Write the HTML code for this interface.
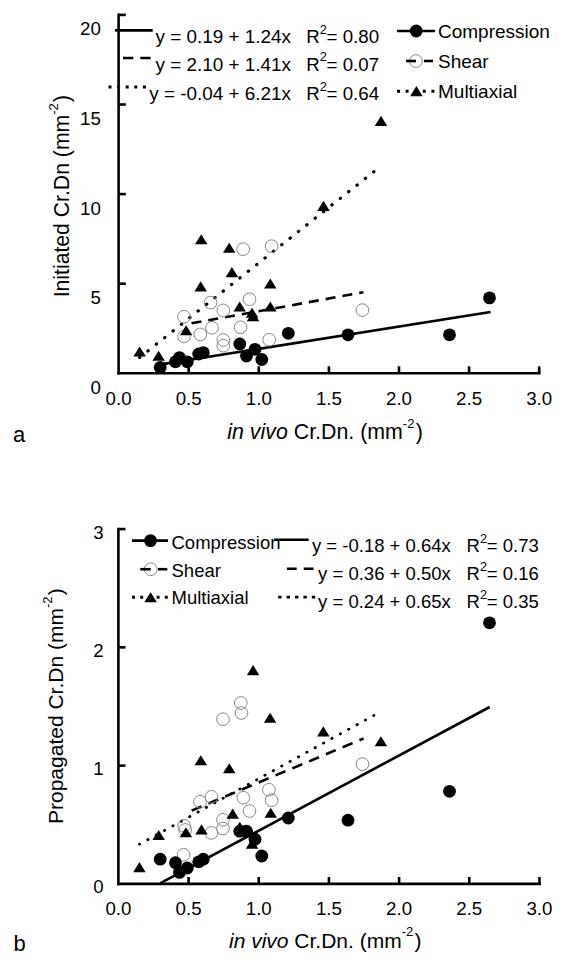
<!DOCTYPE html>
<html><head><meta charset="utf-8"><style>
html,body{margin:0;padding:0;background:#fff;width:566px;height:967px;overflow:hidden}
svg{display:block}
text{font-family:"Liberation Sans", sans-serif;fill:#000}
</style></head><body>
<svg width="566" height="967" viewBox="0 0 566 967">
<rect width="566" height="967" fill="#fff"/>
<line x1="118.6" y1="13.6" x2="118.6" y2="374.6" stroke="#000" stroke-width="2.6" />
<line x1="117.3" y1="373.3" x2="540.6" y2="373.3" stroke="#000" stroke-width="2.6" />
<line x1="118.6" y1="14.899999999999977" x2="125.8" y2="14.899999999999977" stroke="#000" stroke-width="2.6" />
<line x1="118.6" y1="104.5" x2="125.8" y2="104.5" stroke="#000" stroke-width="2.6" />
<line x1="118.6" y1="194.1" x2="125.8" y2="194.1" stroke="#000" stroke-width="2.6" />
<line x1="118.6" y1="283.7" x2="125.8" y2="283.7" stroke="#000" stroke-width="2.6" />
<line x1="188.7" y1="366.3" x2="188.7" y2="373.3" stroke="#000" stroke-width="2.6" />
<line x1="258.79999999999995" y1="366.3" x2="258.79999999999995" y2="373.3" stroke="#000" stroke-width="2.6" />
<line x1="328.9" y1="366.3" x2="328.9" y2="373.3" stroke="#000" stroke-width="2.6" />
<line x1="399.0" y1="366.3" x2="399.0" y2="373.3" stroke="#000" stroke-width="2.6" />
<line x1="469.1" y1="366.3" x2="469.1" y2="373.3" stroke="#000" stroke-width="2.6" />
<line x1="539.1999999999999" y1="366.3" x2="539.1999999999999" y2="373.3" stroke="#000" stroke-width="2.6" />
<text x="100.9" y="35.299999999999976" font-size="18.7" text-anchor="end" >20</text>
<text x="100.9" y="124.9" font-size="18.7" text-anchor="end" >15</text>
<text x="100.9" y="214.5" font-size="18.7" text-anchor="end" >10</text>
<text x="100.9" y="304.09999999999997" font-size="18.7" text-anchor="end" >5</text>
<text x="100.9" y="393.7" font-size="18.7" text-anchor="end" >0</text>
<text x="118.6" y="405.2" font-size="18.7" text-anchor="middle" >0.0</text>
<text x="188.7" y="405.2" font-size="18.7" text-anchor="middle" >0.5</text>
<text x="258.79999999999995" y="405.2" font-size="18.7" text-anchor="middle" >1.0</text>
<text x="328.9" y="405.2" font-size="18.7" text-anchor="middle" >1.5</text>
<text x="399.0" y="405.2" font-size="18.7" text-anchor="middle" >2.0</text>
<text x="469.1" y="405.2" font-size="18.7" text-anchor="middle" >2.5</text>
<text x="539.1999999999999" y="405.2" font-size="18.7" text-anchor="middle" >3.0</text>
<text transform="translate(69.2,297.3) rotate(-90)" font-size="21.2">Initiated Cr.Dn (mm<tspan font-size="13" dy="-11.3">-2</tspan><tspan dy="11.3" dx="1.3">)</tspan></text>
<text x="227.3" y="439" font-size="21.35"><tspan font-style="italic">in vivo</tspan> Cr.Dn. (mm<tspan font-size="13" dy="-11.3">-2</tspan><tspan dy="11.3" dx="1.3">)</tspan></text>
<text x="13" y="441.5" font-size="22" text-anchor="start" >a</text>
<line x1="160.7" y1="364.4" x2="490.5" y2="312.0" stroke="#000" stroke-width="2.6" />
<line x1="191.5" y1="323.3" x2="363.4" y2="292.3" stroke="#000" stroke-width="2.6" stroke-dasharray="10 7.04"/>
<line x1="139.7" y1="357.4" x2="373.9" y2="171.7" stroke="#000" stroke-width="3.2" stroke-dasharray="0.4 10.27" stroke-dashoffset="0.2" stroke-linecap="round"/>
<circle cx="184" cy="316.7" r="6.35" fill="none" stroke="#888" stroke-width="1"/>
<circle cx="184" cy="336.5" r="6.35" fill="none" stroke="#888" stroke-width="1"/>
<circle cx="200.3" cy="334.4" r="6.35" fill="none" stroke="#888" stroke-width="1"/>
<circle cx="210.6" cy="302.6" r="6.35" fill="none" stroke="#888" stroke-width="1"/>
<circle cx="212" cy="327.8" r="6.35" fill="none" stroke="#888" stroke-width="1"/>
<circle cx="223.3" cy="310.4" r="6.35" fill="none" stroke="#888" stroke-width="1"/>
<circle cx="223.3" cy="340" r="6.35" fill="none" stroke="#888" stroke-width="1"/>
<circle cx="223.3" cy="345.7" r="6.35" fill="none" stroke="#888" stroke-width="1"/>
<circle cx="240.6" cy="327.3" r="6.35" fill="none" stroke="#888" stroke-width="1"/>
<circle cx="243.2" cy="249.2" r="6.35" fill="none" stroke="#888" stroke-width="1"/>
<circle cx="249.5" cy="299.3" r="6.35" fill="none" stroke="#888" stroke-width="1"/>
<circle cx="269.2" cy="339.7" r="6.35" fill="none" stroke="#888" stroke-width="1"/>
<circle cx="271.6" cy="246.2" r="6.35" fill="none" stroke="#888" stroke-width="1"/>
<circle cx="362.4" cy="310.1" r="6.35" fill="none" stroke="#888" stroke-width="1"/>
<path d="M133.35 356.55 L139.60 346.45 L145.85 356.55Z" fill="#000"/>
<path d="M152.35 360.85 L158.60 350.75 L164.85 360.85Z" fill="#000"/>
<path d="M179.85 335.25 L186.10 325.15 L192.35 335.25Z" fill="#000"/>
<path d="M194.45 291.45 L200.70 281.35 L206.95 291.45Z" fill="#000"/>
<path d="M194.95 244.25 L201.20 234.15 L207.45 244.25Z" fill="#000"/>
<path d="M222.95 252.75 L229.20 242.65 L235.45 252.75Z" fill="#000"/>
<path d="M225.65 277.15 L231.90 267.05 L238.15 277.15Z" fill="#000"/>
<path d="M233.45 311.55 L239.70 301.45 L245.95 311.55Z" fill="#000"/>
<path d="M245.85 317.75 L252.10 307.65 L258.35 317.75Z" fill="#000"/>
<path d="M246.75 321.25 L253.00 311.15 L259.25 321.25Z" fill="#000"/>
<path d="M264.05 288.55 L270.30 278.45 L276.55 288.55Z" fill="#000"/>
<path d="M264.05 311.55 L270.30 301.45 L276.55 311.55Z" fill="#000"/>
<path d="M317.25 210.95 L323.50 200.85 L329.75 210.95Z" fill="#000"/>
<path d="M374.75 125.95 L381.00 115.85 L387.25 125.95Z" fill="#000"/>
<circle cx="160.2" cy="367.5" r="6.4" fill="#000"/>
<circle cx="175.5" cy="361.8" r="6.4" fill="#000"/>
<circle cx="179.5" cy="357.6" r="6.4" fill="#000"/>
<circle cx="187.3" cy="361.8" r="6.4" fill="#000"/>
<circle cx="198.7" cy="354.0" r="6.4" fill="#000"/>
<circle cx="203.3" cy="352.6" r="6.4" fill="#000"/>
<circle cx="239.8" cy="344.0" r="6.4" fill="#000"/>
<circle cx="246.5" cy="356.0" r="6.4" fill="#000"/>
<circle cx="255.0" cy="349.3" r="6.4" fill="#000"/>
<circle cx="261.8" cy="359.5" r="6.4" fill="#000"/>
<circle cx="288.3" cy="333.3" r="6.4" fill="#000"/>
<circle cx="348.0" cy="334.8" r="6.4" fill="#000"/>
<circle cx="449.5" cy="334.8" r="6.4" fill="#000"/>
<circle cx="489.5" cy="297.9" r="6.4" fill="#000"/>
<line x1="115" y1="30.4" x2="152.7" y2="30.4" stroke="#000" stroke-width="2.6" />
<line x1="123" y1="58" x2="151" y2="58" stroke="#000" stroke-width="2.6" stroke-dasharray="10.3 7"/>
<line x1="108.5" y1="87" x2="146" y2="87" stroke="#000" stroke-width="3" stroke-dasharray="3 5.6"/>
<text x="291" y="42.9" font-size="18.9" text-anchor="end" >y = 0.19 + 1.24x</text>
<text x="291" y="70.5" font-size="18.9" text-anchor="end" >y = 2.10 + 1.41x</text>
<text x="291" y="100.2" font-size="18.9" text-anchor="end" >y = -0.04 + 6.21x</text>
<text x="306.2" y="42.9" font-size="18.7" text-anchor="start" >R</text>
<text x="319.8" y="33.7" font-size="12.8" text-anchor="start" >2</text>
<text x="326.6" y="42.9" font-size="18.7" text-anchor="start" >= 0.80</text>
<text x="306.2" y="70.5" font-size="18.7" text-anchor="start" >R</text>
<text x="319.8" y="61.3" font-size="12.8" text-anchor="start" >2</text>
<text x="326.6" y="70.5" font-size="18.7" text-anchor="start" >= 0.07</text>
<text x="306.2" y="100.2" font-size="18.7" text-anchor="start" >R</text>
<text x="319.8" y="91.0" font-size="12.8" text-anchor="start" >2</text>
<text x="326.6" y="100.2" font-size="18.7" text-anchor="start" >= 0.64</text>
<line x1="397.1" y1="31" x2="435" y2="31" stroke="#000" stroke-width="2.6" />
<circle cx="416.2" cy="31" r="6.4" fill="#000"/>
<line x1="424" y1="61" x2="433" y2="61" stroke="#000" stroke-width="2.6" />
<circle cx="415.9" cy="61" r="6.35" fill="#fff" stroke="#888" stroke-width="1"/>
<line x1="406" y1="61" x2="416" y2="61" stroke="#000" stroke-width="2.6" />
<line x1="397" y1="91.3" x2="435" y2="91.3" stroke="#000" stroke-width="3" stroke-dasharray="3 5.6"/>
<path d="M410.15 96.15 L416.40 86.05 L422.65 96.15Z" fill="#000"/>
<text x="438" y="38.3" font-size="19" text-anchor="start" >Compression</text>
<text x="438" y="68" font-size="19" text-anchor="start" >Shear</text>
<text x="438" y="98.4" font-size="19" text-anchor="start" >Multiaxial</text>
<line x1="118.4" y1="527.8" x2="118.4" y2="885.2" stroke="#000" stroke-width="2.6" />
<line x1="117.1" y1="883.9" x2="541.0" y2="883.9" stroke="#000" stroke-width="2.6" />
<line x1="118.4" y1="529.0899999999999" x2="125.5" y2="529.0899999999999" stroke="#000" stroke-width="2.6" />
<line x1="118.4" y1="647.36" x2="125.5" y2="647.36" stroke="#000" stroke-width="2.6" />
<line x1="118.4" y1="765.63" x2="125.5" y2="765.63" stroke="#000" stroke-width="2.6" />
<line x1="188.575" y1="877.0" x2="188.575" y2="883.9" stroke="#000" stroke-width="2.6" />
<line x1="258.75" y1="877.0" x2="258.75" y2="883.9" stroke="#000" stroke-width="2.6" />
<line x1="328.92499999999995" y1="877.0" x2="328.92499999999995" y2="883.9" stroke="#000" stroke-width="2.6" />
<line x1="399.1" y1="877.0" x2="399.1" y2="883.9" stroke="#000" stroke-width="2.6" />
<line x1="469.275" y1="877.0" x2="469.275" y2="883.9" stroke="#000" stroke-width="2.6" />
<line x1="539.4499999999999" y1="877.0" x2="539.4499999999999" y2="883.9" stroke="#000" stroke-width="2.6" />
<text x="103.6" y="538.5899999999999" font-size="18.7" text-anchor="end" >3</text>
<text x="103.6" y="656.86" font-size="18.7" text-anchor="end" >2</text>
<text x="103.6" y="775.13" font-size="18.7" text-anchor="end" >1</text>
<text x="103.6" y="893.4" font-size="18.7" text-anchor="end" >0</text>
<text x="118.4" y="914.9" font-size="18.7" text-anchor="middle" >0.0</text>
<text x="188.575" y="914.9" font-size="18.7" text-anchor="middle" >0.5</text>
<text x="258.75" y="914.9" font-size="18.7" text-anchor="middle" >1.0</text>
<text x="328.92499999999995" y="914.9" font-size="18.7" text-anchor="middle" >1.5</text>
<text x="399.1" y="914.9" font-size="18.7" text-anchor="middle" >2.0</text>
<text x="469.275" y="914.9" font-size="18.7" text-anchor="middle" >2.5</text>
<text x="539.4499999999999" y="914.9" font-size="18.7" text-anchor="middle" >3.0</text>
<text transform="translate(63,824) rotate(-90)" font-size="21">Propagated Cr.Dn (mm<tspan font-size="13" dy="-11.3">-2</tspan><tspan dy="11.3" dx="1.3">)</tspan></text>
<text x="229" y="947.5" font-size="21"><tspan font-style="italic">in vivo</tspan> Cr.Dn. (mm<tspan font-size="13" dy="-11.3">-2</tspan><tspan dy="11.3" dx="1.3">)</tspan></text>
<text x="13.5" y="950.5" font-size="22" text-anchor="start" >b</text>
<line x1="160.5" y1="883.2" x2="489.7" y2="707.0" stroke="#000" stroke-width="2.6" />
<line x1="191.6" y1="810.6" x2="363.6" y2="738.5" stroke="#000" stroke-width="2.6" stroke-dasharray="10.7 7.5"/>
<line x1="139.5" y1="844.2" x2="373.9" y2="715.4" stroke="#000" stroke-width="2.8" stroke-dasharray="0.4 9.15" stroke-dashoffset="0.2" stroke-linecap="round"/>
<circle cx="183.6" cy="854.8" r="6.35" fill="none" stroke="#888" stroke-width="1"/>
<circle cx="184.1" cy="825.8" r="6.35" fill="none" stroke="#888" stroke-width="1"/>
<circle cx="185.2" cy="830" r="6.35" fill="none" stroke="#888" stroke-width="1"/>
<circle cx="200" cy="801.8" r="6.35" fill="none" stroke="#888" stroke-width="1"/>
<circle cx="211.5" cy="796.8" r="6.35" fill="none" stroke="#888" stroke-width="1"/>
<circle cx="211.4" cy="832.9" r="6.35" fill="none" stroke="#888" stroke-width="1"/>
<circle cx="223" cy="719.3" r="6.35" fill="none" stroke="#888" stroke-width="1"/>
<circle cx="223" cy="819.8" r="6.35" fill="none" stroke="#888" stroke-width="1"/>
<circle cx="223" cy="828.6" r="6.35" fill="none" stroke="#888" stroke-width="1"/>
<circle cx="240.8" cy="703" r="6.35" fill="none" stroke="#888" stroke-width="1"/>
<circle cx="241.5" cy="713" r="6.35" fill="none" stroke="#888" stroke-width="1"/>
<circle cx="243.3" cy="797.7" r="6.35" fill="none" stroke="#888" stroke-width="1"/>
<circle cx="249.5" cy="811" r="6.35" fill="none" stroke="#888" stroke-width="1"/>
<circle cx="268.9" cy="789.7" r="6.35" fill="none" stroke="#888" stroke-width="1"/>
<circle cx="271.6" cy="800.3" r="6.35" fill="none" stroke="#888" stroke-width="1"/>
<circle cx="362.4" cy="764.1" r="6.35" fill="none" stroke="#888" stroke-width="1"/>
<path d="M133.15 872.15 L139.40 862.05 L145.65 872.15Z" fill="#000"/>
<path d="M152.45 840.05 L158.70 829.95 L164.95 840.05Z" fill="#000"/>
<path d="M179.65 837.25 L185.90 827.15 L192.15 837.25Z" fill="#000"/>
<path d="M195.25 834.45 L201.50 824.35 L207.75 834.45Z" fill="#000"/>
<path d="M194.55 765.25 L200.80 755.15 L207.05 765.25Z" fill="#000"/>
<path d="M222.95 773.35 L229.20 763.25 L235.45 773.35Z" fill="#000"/>
<path d="M226.45 818.65 L232.70 808.55 L238.95 818.65Z" fill="#000"/>
<path d="M233.55 831.85 L239.80 821.75 L246.05 831.85Z" fill="#000"/>
<path d="M245.85 848.65 L252.10 838.55 L258.35 848.65Z" fill="#000"/>
<path d="M246.85 675.15 L253.10 665.05 L259.35 675.15Z" fill="#000"/>
<path d="M263.85 722.85 L270.10 712.75 L276.35 722.85Z" fill="#000"/>
<path d="M264.45 817.75 L270.70 807.65 L276.95 817.75Z" fill="#000"/>
<path d="M317.05 736.45 L323.30 726.35 L329.55 736.45Z" fill="#000"/>
<path d="M374.65 746.35 L380.90 736.25 L387.15 746.35Z" fill="#000"/>
<circle cx="160.2" cy="859.2" r="6.4" fill="#000"/>
<circle cx="175.5" cy="862.7" r="6.4" fill="#000"/>
<circle cx="179.5" cy="872.4" r="6.4" fill="#000"/>
<circle cx="187.3" cy="868.0" r="6.4" fill="#000"/>
<circle cx="198.7" cy="861.8" r="6.4" fill="#000"/>
<circle cx="203.3" cy="859.2" r="6.4" fill="#000"/>
<circle cx="239.8" cy="831.2" r="6.4" fill="#000"/>
<circle cx="246.5" cy="831.2" r="6.4" fill="#000"/>
<circle cx="255.0" cy="839.2" r="6.4" fill="#000"/>
<circle cx="261.8" cy="856.0" r="6.4" fill="#000"/>
<circle cx="288.3" cy="818.0" r="6.4" fill="#000"/>
<circle cx="348.0" cy="820.2" r="6.4" fill="#000"/>
<circle cx="449.5" cy="791.3" r="6.4" fill="#000"/>
<circle cx="489.5" cy="622.8" r="6.4" fill="#000"/>
<line x1="132" y1="540.6" x2="168" y2="540.6" stroke="#000" stroke-width="2.6" />
<circle cx="150.5" cy="540.6" r="6.4" fill="#000"/>
<line x1="158" y1="569.2" x2="167.3" y2="569.2" stroke="#000" stroke-width="2.6" />
<circle cx="150.7" cy="569.2" r="6.35" fill="#fff" stroke="#888" stroke-width="1"/>
<line x1="140.3" y1="569.2" x2="150.7" y2="569.2" stroke="#000" stroke-width="2.6" />
<line x1="132" y1="597.3" x2="168" y2="597.3" stroke="#000" stroke-width="3" stroke-dasharray="3 5.2"/>
<path d="M144.35 602.35 L150.60 592.25 L156.85 602.35Z" fill="#000"/>
<text x="171.5" y="548.6" font-size="18.5" text-anchor="start" >Compression</text>
<text x="171.5" y="577.2" font-size="18.5" text-anchor="start" >Shear</text>
<text x="171.5" y="604.3" font-size="18.5" text-anchor="start" >Multiaxial</text>
<line x1="274.1" y1="539.7" x2="308.6" y2="539.7" stroke="#000" stroke-width="2.6" />
<line x1="286.9" y1="568.8" x2="313.7" y2="568.8" stroke="#000" stroke-width="2.6" stroke-dasharray="9.8 7"/>
<line x1="278.2" y1="597.1" x2="315.1" y2="597.1" stroke="#000" stroke-width="2.6" stroke-dasharray="3.4 5"/>
<text x="450.8" y="551.9" font-size="18.5" text-anchor="end" >y = -0.18 + 0.64x</text>
<text x="450.8" y="580.1" font-size="18.5" text-anchor="end" >y = 0.36 + 0.50x</text>
<text x="450.8" y="608.4" font-size="18.5" text-anchor="end" >y = 0.24 + 0.65x</text>
<text x="466.4" y="551.9" font-size="18.5" text-anchor="start" >R</text>
<text x="480" y="542.6999999999999" font-size="12.7" text-anchor="start" >2</text>
<text x="486.8" y="551.9" font-size="18.5" text-anchor="start" >= 0.73</text>
<text x="466.4" y="580.1" font-size="18.5" text-anchor="start" >R</text>
<text x="480" y="570.9" font-size="12.7" text-anchor="start" >2</text>
<text x="486.8" y="580.1" font-size="18.5" text-anchor="start" >= 0.16</text>
<text x="466.4" y="608.4" font-size="18.5" text-anchor="start" >R</text>
<text x="480" y="599.1999999999999" font-size="12.7" text-anchor="start" >2</text>
<text x="486.8" y="608.4" font-size="18.5" text-anchor="start" >= 0.35</text>
</svg>
</body></html>
